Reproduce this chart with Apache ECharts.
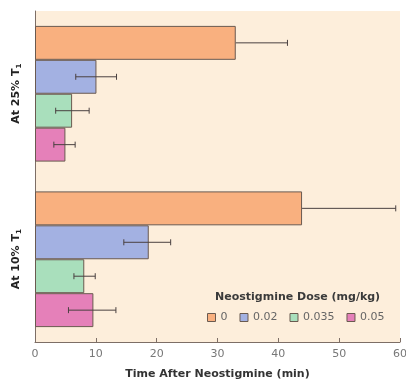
<!DOCTYPE html>
<html><head><meta charset="utf-8">
<script src="https://cdn.jsdelivr.net/npm/echarts@6/dist/echarts.min.js"></script>
<style>html,body{margin:0;padding:0;background:#fff}#c{width:406px;height:380px}</style>
</head><body><div id="c"></div>
<script>
// categories bottom-to-top on the y axis
var categories = ['At 10% T1', 'At 25% T1'];
var doses = ['0', '0.02', '0.035', '0.05'];
// mean values per dose, per category [10%, 25%]
var dose0 = [43.9, 33.0];
var dose002 = [18.7, 10.1];
var dose0035 = [8.1, 6.1];
var dose005 = [9.6, 5.0];
// error bar extents [low, high] per category
var err0 = [[43.9, 59.3], [33.0, 41.5]];
var err002 = [[14.6, 22.3], [6.7, 13.4]];
var err0035 = [[6.4, 9.9], [3.4, 8.9]];
var err005 = [[5.5, 13.3], [3.1, 6.6]];
var xTicks = [0, 10, 20, 30, 40, 50, 60];

var colors = ['#f9b07f', '#a3b1e2', '#a9dfbc', '#e580b9'];
var values = [dose0, dose002, dose0035, dose005];
var errs = [err0, err002, err0035, err005];
var GAP = 0.18;
var FONT = 'DejaVu Sans, Verdana, sans-serif';

var chart = echarts.init(document.getElementById('c'));
var series = [];
values.forEach(function (v, i) {
  series.push({
    name: doses[i], type: 'bar', data: v,
    barGap: 0, barCategoryGap: (GAP * 100) + '%',
    itemStyle: { color: colors[i], borderColor: '#6a5a50', borderWidth: 1 },
    z: 2
  });
});
var errData = [];
errs.forEach(function (e, si) {
  e.forEach(function (lh, ci) { errData.push([ci, lh[0], lh[1], si]); });
});
series.push({
  type: 'custom', z: 5, silent: true,
  data: errData,
  encode: { y: 0, x: [1, 2] },
  renderItem: function (params, api) {
    var ci = api.value(0), lo = api.value(1), hi = api.value(2), si = api.value(3);
    var band = api.size([0, 1])[1];
    var bw = band * (1 - GAP) / 4;
    var c0 = api.coord([lo, ci]);
    var c1 = api.coord([hi, ci]);
    var y = c0[1] - band * (1 - GAP) / 2 + (si + 0.5) * bw;
    var cap = 3;
    var st = { stroke: '#4a4040', lineWidth: 1 };
    var kids = [{ type: 'line', shape: { x1: c0[0], y1: y, x2: c1[0], y2: y }, style: st },
                { type: 'line', shape: { x1: c1[0], y1: y - cap, x2: c1[0], y2: y + cap }, style: st }];
    if (hi - lo > 0 && si !== 0) {
      kids.push({ type: 'line', shape: { x1: c0[0], y1: y - cap, x2: c0[0], y2: y + cap }, style: st });
    }
    return { type: 'group', children: kids };
  }
});

chart.setOption({
  animation: false,
  textStyle: { fontFamily: FONT },
  grid: { left: 35, right: 6, top: 11, bottom: 38, show: true, backgroundColor: '#fdeedb', borderWidth: 0,
          containLabel: false, outerBoundsMode: 'none' },
  title: {
    text: 'Neostigmine Dose (mg/kg)', left: 210, top: 287,
    textStyle: { fontSize: 11, fontWeight: 'bold', color: '#3a3a3a', fontFamily: FONT }
  },
  legend: {
    data: doses, left: 202, top: 307, itemWidth: 8, itemHeight: 8, itemGap: 12,
    icon: 'rect', textStyle: { fontSize: 11, color: '#666', fontFamily: FONT },
    itemStyle: { borderColor: '#6a5a50', borderWidth: 1 }
  },
  xAxis: {
    type: 'value', min: 0, max: 60, interval: 10,
    name: 'Time After Neostigmine (min)', nameLocation: 'middle', nameGap: 27,
    nameTextStyle: { fontSize: 11, fontWeight: 'bold', color: '#333', fontFamily: FONT },
    axisLine: { show: true, lineStyle: { color: '#7d6e66' } },
    axisTick: { show: true, inside: true, length: 4, lineStyle: { color: '#7d6e66' } },
    axisLabel: { fontSize: 11, color: '#777', margin: 7, fontFamily: FONT,
      formatter: function (v) { return xTicks.indexOf(v) >= 0 ? String(v) : ''; } },
    splitLine: { show: false }
  },
  yAxis: {
    type: 'category', data: categories,
    axisLine: { show: true, lineStyle: { color: '#7d6e66' } },
    axisTick: { show: false },
    axisLabel: {
      rotate: 90, margin: 12, color: '#222',
      formatter: function (v) { return '{a|' + v.slice(0, -1) + '}{s|' + v.slice(-1) + '}'; },
      rich: {
        a: { fontSize: 11, fontWeight: 'bold', color: '#222', fontFamily: FONT },
        s: { fontSize: 7, fontWeight: 'bold', color: '#222', fontFamily: FONT, verticalAlign: 'bottom', padding: [6, 0, 0, 0] }
      }
    }
  },
  series: series
});
</script></body></html>
